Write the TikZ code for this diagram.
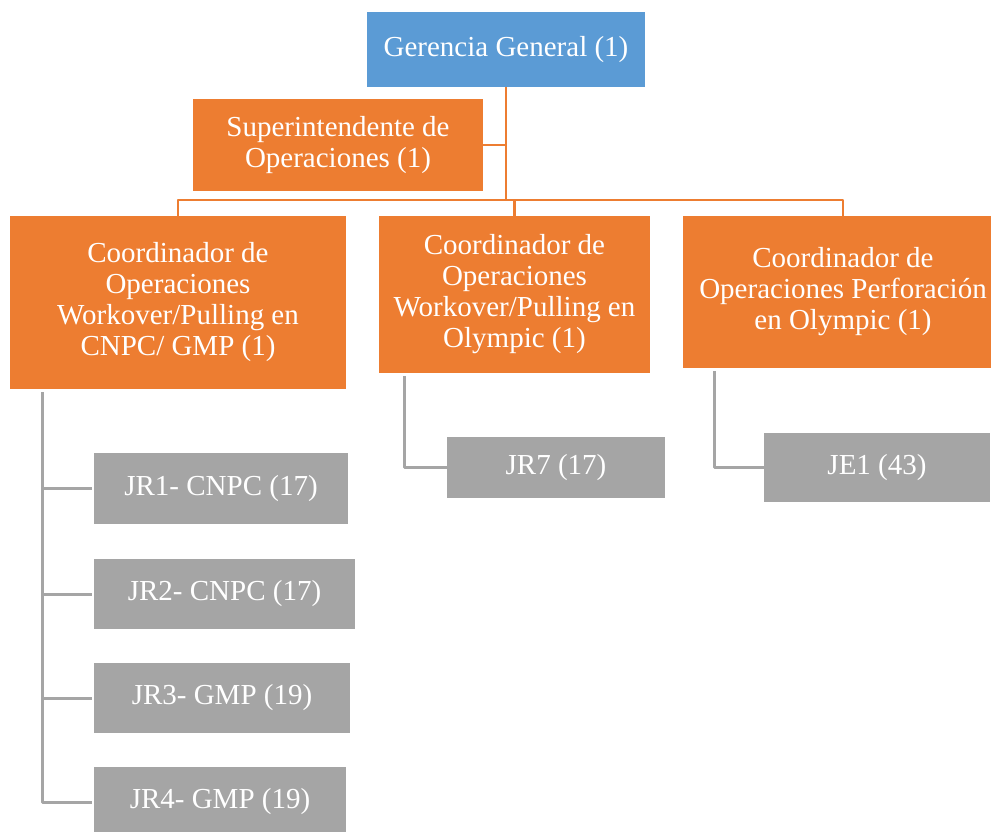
\documentclass[tikz,border=0pt]{standalone}
\usepackage{fontspec}
\setmainfont{Liberation Serif}
\definecolor{azul}{HTML}{5B9BD5}
\definecolor{naranja}{HTML}{ED7D31}
\definecolor{gris}{HTML}{A5A5A5}
\begin{document}
\begin{tikzpicture}[x=1pt, y=-1pt, font=\fontsize{29}{31}\selectfont, line join=round,
	caja/.style={text=white, align=center, inner sep=0pt, outer sep=0pt},
	cajaazul/.style={caja, fill=azul},
	cajanar/.style={caja, fill=naranja},
	cajagris/.style={caja, fill=gris},
	lineanar/.style={draw=naranja, line width=2.5pt},
	lineagris/.style={draw=gris, line width=3pt}]
	\useasboundingbox (0,0) rectangle (991,832);
	\clip (0,0) rectangle (991,832);
	% Nivel 1 y 2
	\node[cajaazul, minimum width=278pt, minimum height=75pt] (ger) at (506,49.5) {Gerencia General (1)};
	\node[cajanar, minimum width=290pt, minimum height=92pt] (sup) at (338,145) {Superintendente de\\Operaciones (1)};
	% Coordinadores
	\node[cajanar, minimum width=336pt, minimum height=173pt] (coordA) at (178,302.5) {Coordinador de\\Operaciones\\Workover/Pulling en\\CNPC/ GMP (1)};
	\node[cajanar, minimum width=271pt, minimum height=157pt] (coordB) at (514.5,294.5) {Coordinador de\\Operaciones\\Workover/Pulling en\\Olympic (1)};
	\node[cajanar, minimum width=320pt, minimum height=152pt] (coordC) at (843,292) {Coordinador de\\Operaciones Perforación\\en Olympic (1)};
	% Jefes
	\node[cajagris, minimum width=254pt, minimum height=71pt] (jr1) at (221,488.5) {JR1- CNPC (17)};
	\node[cajagris, minimum width=261pt, minimum height=70pt] (jr2) at (224.5,594) {JR2- CNPC (17)};
	\node[cajagris, minimum width=256pt, minimum height=70pt] (jr3) at (222,698) {JR3- GMP (19)};
	\node[cajagris, minimum width=252pt, minimum height=70pt] (jr4) at (220,802) {JR4- GMP (19)};
	\node[cajagris, minimum width=218pt, minimum height=61pt] (jr7) at (556,467.5) {JR7 (17)};
	\node[cajagris, minimum width=226pt, minimum height=69pt] (je1) at (877,467.5) {JE1 (43)};
	% Conectores
	\draw[lineanar] (ger.south) |- (sup.east);
	\foreach \n in {coordA,coordB,coordC}
		\draw[lineanar] (ger.south) |- ([yshift=16pt]\n.north) -- (\n.north);
	\foreach \j in {jr1,jr2,jr3,jr4}
		\draw[lineagris] ([xshift=32pt,yshift=-3pt]coordA.south west) |- ([xshift=-2pt]\j.west);
	\draw[lineagris] ([xshift=25pt,yshift=-3pt]coordB.south west) |- (jr7.west);
	\draw[lineagris] ([xshift=31pt,yshift=-3pt]coordC.south west) |- (je1.west);
\end{tikzpicture}
\end{document}
